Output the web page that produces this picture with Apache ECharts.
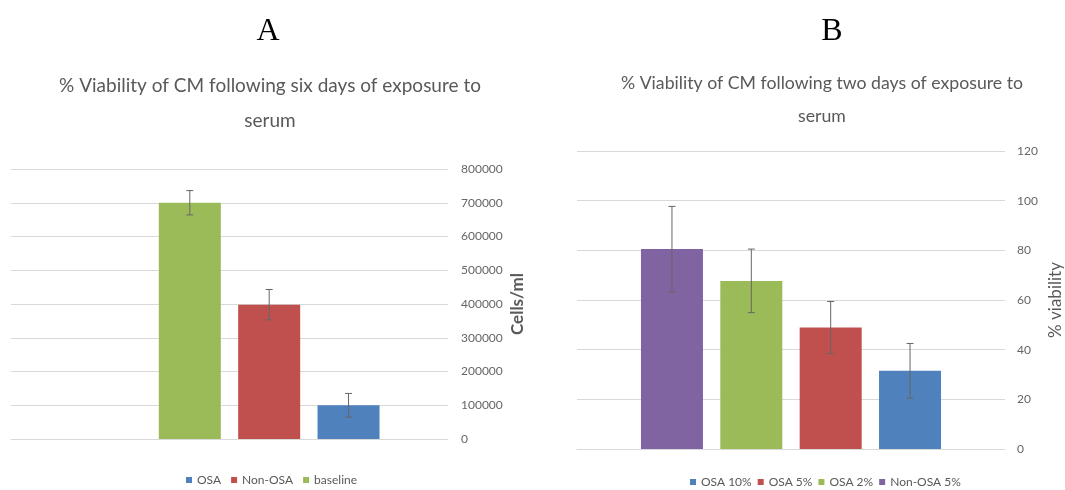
<!DOCTYPE html>
<html>
<head>
<meta charset="utf-8">
<script src="https://cdn.jsdelivr.net/npm/echarts@6/dist/echarts.min.js"></script>
<style>
  html, body { margin: 0; background: #fff; }
  #main { width: 1065px; height: 490px; }
</style>
</head>
<body>
<div id="main"></div>
<script>
// A: cells/ml after six days (bars left to right, first slot is empty in the original)
var namesA = ["", "baseline", "Non-OSA", "OSA"];
var valuesA = [null, 700000, 398000, 100000];
var errorsA = [null, 36000, 45000, 35000];
var legendA = ["OSA", "Non-OSA", "baseline"];

// B: % viability after two days
var namesB = ["Non-OSA 5%", "OSA 2%", "OSA 5%", "OSA 10%"];
var valuesB = [80.5, 67.7, 48.9, 31.5];
var errorsB = [17.2, 12.8, 10.5, 11];
var legendB = ["OSA 10%", "OSA 5%", "OSA 2%", "Non-OSA 5%"];

var colors = {
  "baseline": "#9BBB59", "Non-OSA": "#C0504D", "OSA": "#4F81BD",
  "Non-OSA 5%": "#8064A2", "OSA 2%": "#9BBB59", "OSA 5%": "#C0504D", "OSA 10%": "#4F81BD"
};

var textColor = "#595959";
var gridColor = "#d9d9d9";
var font = "Lato";
var barW = 62;
var barGap = "28%";

let myChart = echarts.init(document.getElementById("main"));

function barSeries(names, values, axisIdx) {
  return names.map(function (n, i) {
    return {
      name: n,
      type: "bar",
      xAxisIndex: axisIdx,
      yAxisIndex: axisIdx,
      barWidth: barW,
      barGap: barGap,
      itemStyle: { color: colors[n] || "#fff" },
      data: [values[i]]
    };
  });
}

function errorSeries(values, errors, axisIdx) {
  var data = [];
  values.forEach(function (v, i) {
    if (v != null) data.push([0, v, errors[i], i]);
  });
  return {
    type: "custom",
    xAxisIndex: axisIdx,
    yAxisIndex: axisIdx,
    z: 5,
    silent: true,
    data: data,
    renderItem: function (params, api) {
      var layout = api.barLayout({ count: values.length, barWidth: barW, barGap: barGap });
      var slot = api.value(3);
      var v = api.value(1), e = api.value(2);
      var top = api.coord([0, v + e]);
      var bot = api.coord([0, v - e]);
      var x = top[0] + layout[slot].offsetCenter;
      var cap = 3.5;
      var st = { stroke: "#666", lineWidth: 1 };
      return {
        type: "group",
        children: [
          { type: "line", shape: { x1: x, y1: top[1], x2: x, y2: bot[1] }, style: st },
          { type: "line", shape: { x1: x - cap, y1: top[1], x2: x + cap, y2: top[1] }, style: st },
          { type: "line", shape: { x1: x - cap, y1: bot[1], x2: x + cap, y2: bot[1] }, style: st }
        ]
      };
    }
  };
}

function xAx(idx) {
  return {
    type: "category",
    gridIndex: idx,
    data: [""],
    axisLine: { lineStyle: { color: gridColor } },
    axisTick: { show: false },
    axisLabel: { show: false }
  };
}

function yAx(idx, max, interval, name, gap, bold, margin) {
  return {
    type: "value",
    gridIndex: idx,
    position: "right",
    min: 0,
    max: max,
    interval: interval,
    name: name,
    nameLocation: "middle",
    nameRotate: 90,
    nameGap: gap,
    nameTextStyle: { color: textColor, fontFamily: font, fontSize: 17, fontWeight: bold ? "bold" : "normal" },
    axisLine: { show: false },
    axisTick: { show: false },
    axisLabel: {
      color: "#666", fontFamily: font, fontSize: 12, margin: margin,
      formatter: function (v) { return String(v); }
    },
    splitLine: { lineStyle: { color: gridColor } }
  };
}

function label(text, x, y, size, serif) {
  return {
    type: "text",
    x: x,
    y: y,
    style: {
      text: text,
      align: "center",
      verticalAlign: "middle",
      fill: serif ? "#000" : textColor,
      font: size + "px " + (serif ? "'Liberation Serif'" : font)
    }
  };
}

let option = {
  animation: false,
  grid: [
    { left: 11, right: 617, top: 169, bottom: 51 },
    { left: 577, right: 55, top: 151, bottom: 41 }
  ],
  legend: [
    {
      data: legendA, left: 186, top: 474, padding: 0,
      itemWidth: 6, itemHeight: 6, itemGap: 10, icon: "rect",
      textStyle: { color: textColor, fontFamily: font, fontSize: 12 }
    },
    {
      data: legendB, left: 690, top: 476, padding: 0,
      itemWidth: 6, itemHeight: 6, itemGap: 6, icon: "rect",
      textStyle: { color: textColor, fontFamily: font, fontSize: 12 }
    }
  ],
  graphic: [
    label("A", 268, 32, 32, true),
    label("% Viability of CM following six days of exposure to", 270, 86, 19),
    label("serum", 270, 121, 19),
    label("B", 832, 32, 32, true),
    label("% Viability of CM following two days of exposure to", 822, 83, 17.7),
    label("serum", 822, 116, 17.7)
  ],
  xAxis: [xAx(0), xAx(1)],
  yAxis: [
    yAx(0, 800000, 100000, "Cells/ml", 61, true, 13),
    yAx(1, 120, 20, "% viability", 42, false, 12)
  ],
  series: barSeries(namesA, valuesA, 0)
    .concat(barSeries(namesB, valuesB, 1))
    .concat([errorSeries(valuesA, errorsA, 0), errorSeries(valuesB, errorsB, 1)])
};

myChart.setOption(option);
</script>
</body>
</html>
